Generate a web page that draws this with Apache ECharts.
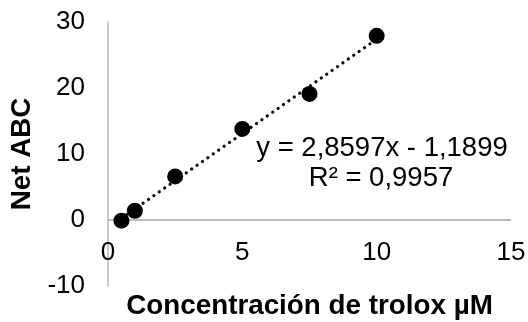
<!DOCTYPE html>
<html>
<head>
<meta charset="utf-8">
<script src="https://cdn.jsdelivr.net/npm/echarts@6/dist/echarts.min.js"></script>
<style>
  html, body { margin: 0; padding: 0; background: #fff; }
  #chart { width: 528px; height: 322px; }
</style>
</head>
<body>
<div id="chart"></div>
<script>
// Trolox calibration: concentration (µM) vs net ABC
const concentration = [0.5, 1, 2.5, 5, 7.5, 10];
const netAbc = [-0.1, 1.4, 6.6, 13.8, 19.1, 27.9];

// Linear fit reported on the chart
const fitSlope = 2.8597;
const fitIntercept = -1.1899;
const fitR2 = 0.9957;
const fitRange = [0.5, 10];

const xTicks = { min: 0, max: 15, interval: 5 };
const yTicks = { min: -10, max: 30, interval: 10 };
const baselineY = 0;

const FONT = "'Liberation Sans', Arial, sans-serif";
const AXIS_GREY = '#bcbcbc';
const fmt = (v) => String(v).replace('.', ',');

const points = concentration.map((x, i) => [x, netAbc[i]]);
const fitLine = fitRange.map((x) => [x, fitSlope * x + fitIntercept]);
// horizontal axis line, drawn where y = 0
const baseline = [[xTicks.min, baselineY], [xTicks.max, baselineY]];

const chart = echarts.init(document.getElementById('chart'), null, { renderer: 'canvas' });

const eqStyle = { fontFamily: FONT, fontSize: 27.5, fill: '#000', align: 'center', verticalAlign: 'middle' };

chart.setOption({
  animation: false,
  backgroundColor: '#ffffff',
  grid: { left: 108, right: 17, top: 22, bottom: 36, containLabel: false, outerBoundsMode: 'none' },
  xAxis: {
    type: 'value',
    min: xTicks.min, max: xTicks.max, interval: xTicks.interval,
    name: 'Concentración de trolox µM',
    nameLocation: 'middle',
    nameGap: 5,
    nameTextStyle: { fontFamily: FONT, fontSize: 27.8, fontWeight: 'bold', color: '#000', verticalAlign: 'top' },
    axisLine: { show: false, onZero: false },
    axisTick: { show: false },
    splitLine: { show: false },
    axisLabel: { inside: true, fontFamily: FONT, fontSize: 26, color: '#000', margin: 20 }
  },
  yAxis: {
    type: 'value',
    min: yTicks.min, max: yTicks.max, interval: yTicks.interval,
    name: 'Net ABC',
    nameLocation: 'middle',
    nameGap: 72,
    nameRotate: 90,
    nameTextStyle: { fontFamily: FONT, fontSize: 27.8, fontWeight: 'bold', color: '#000' },
    axisLine: { show: true, onZero: false, lineStyle: { color: AXIS_GREY, width: 1.6 } },
    axisTick: { show: false },
    splitLine: { show: false },
    axisLabel: { fontFamily: FONT, fontSize: 26, color: '#000', margin: 23 }
  },
  series: [
    {
      name: 'Eje',
      type: 'line',
      data: baseline,
      symbol: 'none',
      silent: true,
      z: 1,
      lineStyle: { color: AXIS_GREY, width: 1.8, type: 'solid' }
    },
    {
      name: 'Tendencia',
      type: 'line',
      data: fitLine,
      symbol: 'none',
      silent: true,
      z: 3,
      lineStyle: { color: '#0b0b1a', width: 3.2, type: [0.1, 6.5], cap: 'round' }
    },
    {
      name: 'Net ABC',
      type: 'scatter',
      data: points,
      symbol: 'circle',
      symbolSize: 16,
      z: 4,
      itemStyle: { color: '#000000', opacity: 1 }
    }
  ],
  graphic: [
    {
      type: 'text',
      x: 382, y: 148,
      style: Object.assign({
        text: 'y = ' + fmt(fitSlope) + 'x - ' + fmt(Math.abs(fitIntercept))
      }, eqStyle)
    },
    {
      type: 'text',
      x: 381, y: 178,
      style: Object.assign({ text: 'R² = ' + fmt(fitR2) }, eqStyle)
    }
  ]
});
</script>
</body>
</html>
